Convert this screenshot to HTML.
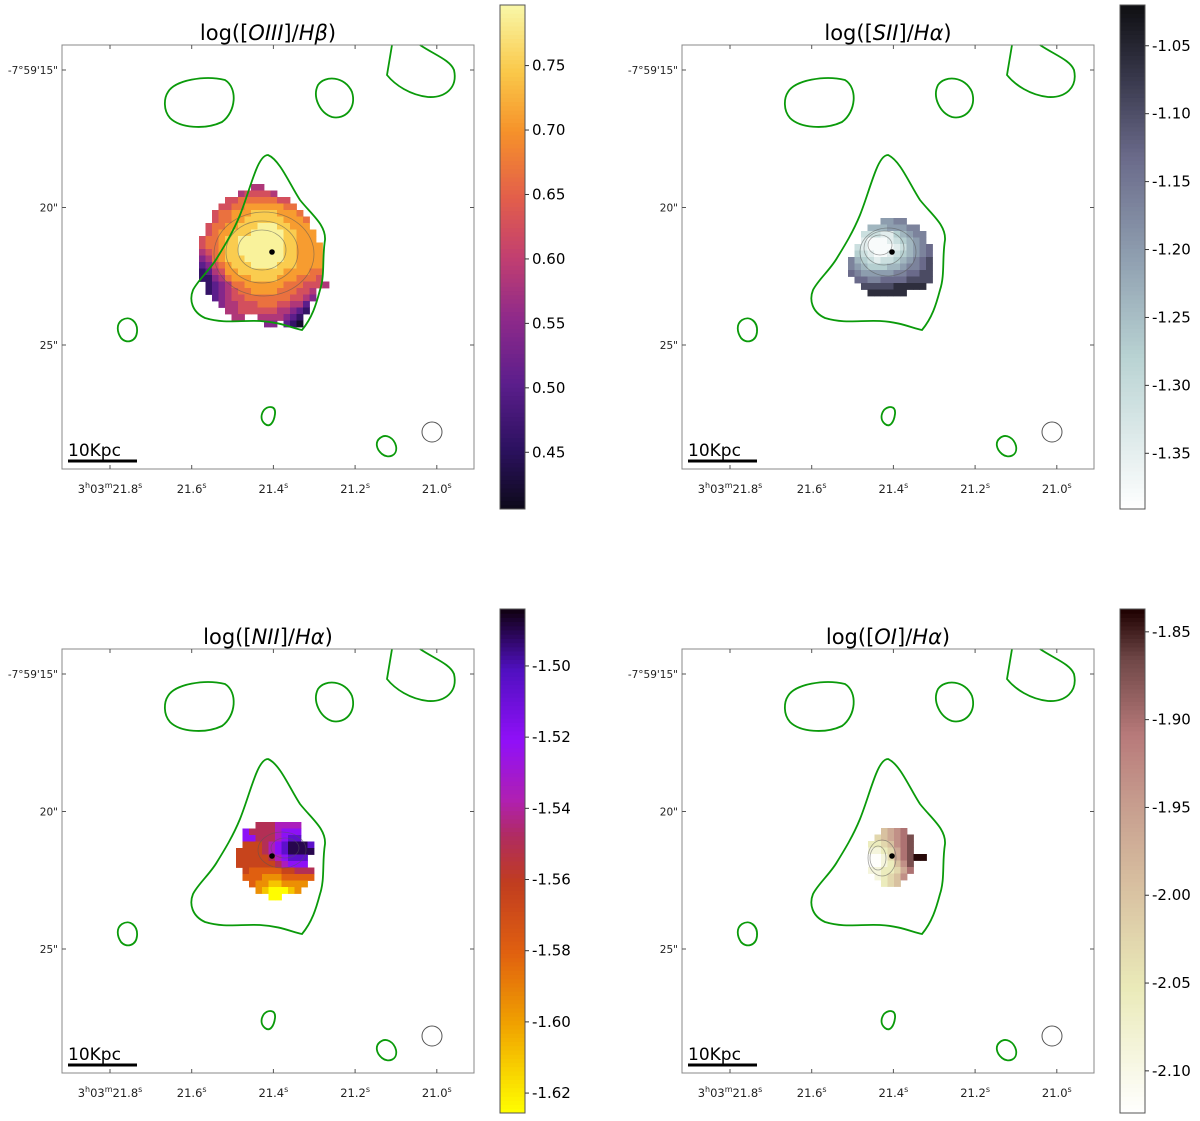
<!DOCTYPE html>
<html><head><meta charset="utf-8">
<style>
html,body{margin:0;padding:0;background:#fff;}
svg{display:block;font-family:"DejaVu Sans","Liberation Sans",sans-serif;}
</style></head>
<body>
<svg id="fig" width="1200" height="1121" viewBox="0 0 1200 1121" xmlns="http://www.w3.org/2000/svg"></svg>
<script>
// ---- data ----
const panelTitles = ["OIII|Hβ", "SII|Hα", "NII|Hα", "OI|Hα"];
const xTickLabels = ["21.8", "21.6", "21.4", "21.2", "21.0"];
const xTickRA = [21.8, 21.6, 21.4, 21.2, 21.0];
const yTickLabels = ["-7°59'15\"", "20\"", "25\""];
const yTickDec = [15, 20, 25];
const cbarTicks0 = [0.45, 0.50, 0.55, 0.60, 0.65, 0.70, 0.75];
const cbarTicks1 = [-1.35, -1.30, -1.25, -1.20, -1.15, -1.10, -1.05];
const cbarTicks2 = [-1.62, -1.60, -1.58, -1.56, -1.54, -1.52, -1.50];
const cbarTicks3 = [-2.10, -2.05, -2.00, -1.95, -1.90, -1.85];
const cbarRange0 = [0.406, 0.797];
const cbarRange1 = [-1.391, -1.020];
const cbarRange2 = [-1.6256, -1.484];
const cbarRange3 = [-2.124, -1.837];
// map value levels (0..9 => levelRange min..max), '.' = no data
const levelRange0 = [0.42, 0.79];
const levelRange1 = [-1.38, -1.06];
const levelRange2 = [-1.625, -1.49];
const levelRange3 = [-2.12, -1.84];
const map0 = [
"........44..........",
"......455554........",
"....5566666655......",
"...556677777766.....",
"..56677788887776....",
"..566778888887776...",
".5667788899988777...",
".56778889999988777..",
"566788999999988777..",
"5667889999999887777.",
"4567889999999887777.",
"3467888999999887777.",
"2356788899998887777.",
"1245778888888777766.",
"1134677788887776665.",
".1234667777776665554",
".12345667777666554..",
"..2345566666665543..",
"...34455566655442...",
"....4455555544321...",
".....44..4444321....",
"..........33.210...."];
const map1 = [
".....5566....",
"...44455566..",
"..2221134566.",
"..1000123456.",
".210000124567",
".321001234567",
"6432122345678",
"6543334456678",
"7655555667788",
".776677778888",
"..8888899999.",
"...999999...."];
const map2 = [
"...5556666..",
".755556777..",
".775556788..",
".44456789998",
"444456789999",
"44444567888.",
"44444456777.",
".43333344555",
".33322233333",
"..322112222.",
"...2100012..",
".....00....."];
const map3 = [
"..4567...",
".345678..",
"2234678..",
"1123578..",
"001357899",
"0012468..",
"1122357..",
".12346...",
"..234...."];
const mapOrigin0 = [199, 184], mapOrigin1 = [848, 218], mapOrigin2 = [236, 822], mapOrigin3 = [868, 828];

// ---- colormaps (styles) ----
const cmaps = [
 [[0,"#0d0a1a"],[.12,"#2c1160"],[.25,"#5c1e8c"],[.38,"#8f2a8a"],[.5,"#c23f70"],[.62,"#e35f4a"],[.75,"#f6922a"],[.87,"#fac94a"],[1,"#f9f8a8"]],
 [[0,"#ffffff"],[.3,"#b9d3d3"],[.5,"#8f9fb0"],[.7,"#6a6a8a"],[.85,"#3a3a4e"],[1,"#0f0f12"]],
 [[0,"#ffff00"],[.18,"#f0a000"],[.32,"#e06010"],[.46,"#c03c20"],[.55,"#b02c60"],[.62,"#b020b0"],[.74,"#9010f8"],[.88,"#5010c0"],[1,"#100010"]],
 [[0,"#ffffff"],[.25,"#eaeab8"],[.45,"#d8c0a0"],[.6,"#c8a090"],[.75,"#b87a7a"],[.9,"#704848"],[1,"#1e0000"]]
];
function hex(c){return [1,3,5].map(i=>parseInt(c.substr(i,2),16));}
function cmap(k,t){
  t=Math.max(0,Math.min(1,t));const s=cmaps[k];
  for(let i=1;i<s.length;i++){if(t<=s[i][0]){const a=s[i-1],b=s[i];const f=(t-a[0])/(b[0]-a[0]);const ca=hex(a[1]),cb=hex(b[1]);
  return "rgb("+ca.map((v,j)=>Math.round(v+(cb[j]-v)*f)).join(",")+")";}}
  return s[s.length-1][1];
}
const NS="http://www.w3.org/2000/svg";
const fig=document.getElementById("fig");
function mk(tag,attrs,parent){const e=document.createElementNS(NS,tag);for(const k in attrs)e.setAttribute(k,attrs[k]);(parent||fig).appendChild(e);return e;}

const panels=[{ox:0,oy:0},{ox:620,oy:0},{ox:0,oy:604},{ox:620,oy:604}];
const cbarTicks=[cbarTicks0,cbarTicks1,cbarTicks2,cbarTicks3];
const cbarRanges=[cbarRange0,cbarRange1,cbarRange2,cbarRange3];
const levelRanges=[levelRange0,levelRange1,levelRange2,levelRange3];
const maps=[map0,map1,map2,map3];
const mapOrigins=[mapOrigin0,mapOrigin1,mapOrigin2,mapOrigin3];
const cell=6.5;
function xRA(ox,ra){return ox+110+(21.8-ra)/0.2*81.7;}
function yDec(oy,d){return oy+70+(d-15)/5*137.5;}

const contours=[
"M168,92 C175,80 205,75 225,80 C238,88 236,112 222,122 C205,130 180,128 170,118 C163,110 164,98 168,92 Z",
"M318,85 C325,75 345,76 352,92 C357,108 345,120 332,117 C320,113 312,97 318,85 Z",
"M392,45 L387,75 C395,85 410,95 428,97 C445,98 458,88 454,70 C450,60 435,55 420,45",
"M268,155 C280,160 290,185 300,200 C312,215 326,225 325,240 C322,258 325,275 320,290 C316,305 312,318 302,330 C292,328 280,322 260,321 C240,320 225,324 205,318 C192,312 189,300 193,290 C198,280 210,270 217,258 C225,245 233,232 240,215 C246,200 250,185 256,170 C260,160 264,155 268,155 Z",
"M122,320 C130,315 138,322 137,332 C136,342 126,344 121,338 C117,332 116,324 122,320 Z",
"M264,410 C268,406 276,405 275,414 C274,422 270,428 265,424 C260,420 261,414 264,410 Z",
"M380,438 C386,433 394,438 396,446 C398,456 388,459 382,454 C376,449 375,442 380,438 Z"
];
const isoLines=[
 [[262,250,24,20],[262,252,36,31],[264,254,50,42]],
 [[880,245,12,10],[884,248,20,17],[888,252,28,24]],
 [[285,848,14,10],[282,850,24,18]],
 [[878,858,8,12],[882,858,14,18]]
];

panels.forEach((p,k)=>{
  const g=mk("g",{});
  
  
  const ox=p.ox,oy=p.oy;
  const parts=panelTitles[k].split("|");
  const t=mk("text",{x:ox+268,y:oy+40,"text-anchor":"middle","font-size":21,fill:"#000"},g);
  
  
  const s1=mk("tspan",{},t);s1.textContent="log([";
  const s2=mk("tspan",{"font-style":"italic"},t);s2.textContent=parts[0];
  const s3=mk("tspan",{},t);s3.textContent="]/";
  const s4=mk("tspan",{"font-style":"italic"},t);s4.textContent=parts[1];
  const s5=mk("tspan",{},t);s5.textContent=")";
  const m=maps[k],o=mapOrigins[k],lr=levelRanges[k],cr=cbarRanges[k];
  m.forEach((row,r)=>{for(let c=0;c<row.length;c++){const ch=row[c];if(ch===".")continue;
    const v=lr[0]+(+ch)/9*(lr[1]-lr[0]);
    const rect=mk("rect",{x:o[0]+c*cell,y:o[1]+r*cell,width:cell+0.4,height:cell+0.4,fill:cmap(k,(v-cr[0])/(cr[1]-cr[0]))},g);
    
    
  }});
  isoLines[k].forEach(e=>{const el=mk("ellipse",{cx:e[0],cy:e[1],rx:e[2],ry:e[3],fill:"none",stroke:"#555","stroke-opacity":0.55,"stroke-width":0.8},g);
    
    });
  contours.forEach(d=>{const pa=mk("path",{d:d,transform:`translate(${ox},${oy})`,fill:"none",stroke:"#0a9a0a","stroke-width":1.8},g);
    
    });
  const dot=mk("circle",{cx:ox+272,cy:oy+252,r:2.8,fill:"#000"},g);
  
  
  const bc=mk("circle",{cx:ox+432,cy:oy+432,r:10,fill:"none",stroke:"#555","stroke-width":1},g);
  
  
  const sb=mk("line",{x1:ox+68,x2:ox+137,y1:oy+461,y2:oy+461,stroke:"#000","stroke-width":3},g);
  
  
  const sbt=mk("text",{x:ox+68,y:oy+456,"font-size":17},g);sbt.textContent="10Kpc";
  
  
  const fr=mk("rect",{x:ox+62,y:oy+45,width:412,height:424,fill:"none",stroke:"#888","stroke-width":1},g);
  
  
  xTickRA.forEach((ra,i)=>{const x=xRA(ox,ra);
    mk("line",{x1:x,x2:x,y1:oy+469,y2:oy+465,stroke:"#555"},g);
    mk("line",{x1:x,x2:x,y1:oy+45,y2:oy+49,stroke:"#555"},g);
    const tx=mk("text",{x:x,y:oy+493,"text-anchor":"middle","font-size":11.5,fill:"#222"},g);
    
    
    if(i===0){const a=mk("tspan",{},tx);a.textContent="3";const b=mk("tspan",{"font-size":8,dy:-5},tx);b.textContent="h";
      const c2=mk("tspan",{dy:5},tx);c2.textContent="03";const d2=mk("tspan",{"font-size":8,dy:-5},tx);d2.textContent="m";
      const e2=mk("tspan",{dy:5},tx);e2.textContent=xTickLabels[i];const f2=mk("tspan",{"font-size":8,dy:-5},tx);f2.textContent="s";}
    else{const a=mk("tspan",{},tx);a.textContent=xTickLabels[i];const b=mk("tspan",{"font-size":8,dy:-5},tx);b.textContent="s";}
  });
  yTickDec.forEach((d,i)=>{const y=yDec(oy,d);
    mk("line",{x1:ox+62,x2:ox+66,y1:y,y2:y,stroke:"#555"},g);
    mk("line",{x1:ox+474,x2:ox+470,y1:y,y2:y,stroke:"#555"},g);
    const ty=mk("text",{x:ox+58,y:y+4,"text-anchor":"end","font-size":10.5,fill:"#222"},g);
    ty.textContent=yTickLabels[i];
    
    
  });
  const cx=ox+500,top=oy+5,bot=oy+509,h=bot-top;
  const n=120;
  for(let i=0;i<n;i++){const tt=(i+0.5)/n;
    const r=mk("rect",{x:cx,y:bot-(i+1)*h/n,width:25,height:h/n+0.5,fill:cmap(k,tt)},g);
    
    }
  const cf=mk("rect",{x:cx,y:top,width:25,height:h,fill:"none",stroke:"#555"},g);
  
  
  cbarTicks[k].forEach(v=>{const y=bot-(v-cr[0])/(cr[1]-cr[0])*h;
    mk("line",{x1:cx+25,x2:cx+29,y1:y,y2:y,stroke:"#333"},g);
    const tl=mk("text",{x:cx+32,y:y+5,"font-size":15,fill:"#000"},g);
    tl.textContent=v.toFixed(2);
    
    
  });
});
</script>
</body></html>
